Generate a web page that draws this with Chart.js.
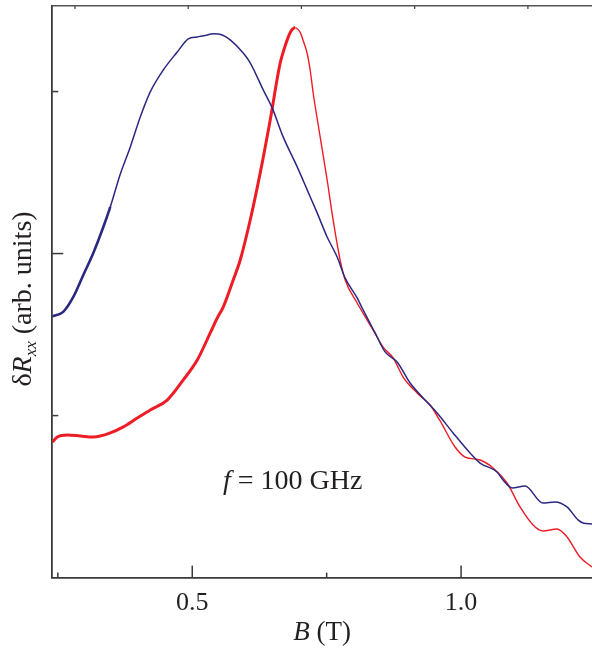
<!DOCTYPE html>
<html>
<head>
<meta charset="utf-8">
<script src="https://cdn.jsdelivr.net/npm/chart.js@4.4.1/dist/chart.umd.min.js"></script>
<style>
    html, body { margin: 0; padding: 0; background: #fff; }
    #wrap { width: 592px; height: 650px; position: relative; }
</style>
</head>
<body>
<div id="wrap"><canvas id="chart"></canvas></div>
<script>
// blue trace
const blueB = [0.2397, 0.260, 0.2788, 0.2974, 0.316, 0.3346, 0.3476, 0.3662, 0.3848, 0.4033,
    0.4219, 0.4461, 0.4721, 0.4926, 0.5093, 0.5242, 0.539, 0.5558, 0.5706, 0.5948,
    0.6078, 0.632, 0.6487, 0.6691, 0.6952, 0.7138, 0.7323, 0.7509, 0.7695, 0.7844,
    0.8067, 0.8178, 0.8401, 0.8587, 0.881, 0.9052, 0.9294, 0.9554, 0.9851, 1.0167,
    1.0353, 1.0669, 1.0781, 1.0948, 1.119, 1.1524, 1.1747, 1.197, 1.2175, 1.2268, 1.2435];
const blueR = [1.612, 1.640, 1.732, 1.868, 2.004, 2.164, 2.288, 2.491, 2.658, 2.843,
    2.998, 3.133, 3.244, 3.325, 3.337, 3.346, 3.356, 3.349, 3.319, 3.238,
    3.177, 3.010, 2.899, 2.720, 2.535, 2.393, 2.251, 2.102, 1.979, 1.849,
    1.726, 1.652, 1.510, 1.393, 1.331, 1.201, 1.109, 1.016, 0.893, 0.769,
    0.707, 0.652, 0.602, 0.553, 0.565, 0.460, 0.467, 0.436, 0.356, 0.337, 0.331];

// red trace
const redB = [0.2397, 0.2491, 0.2677, 0.2918, 0.316, 0.3476, 0.3717, 0.3978, 0.4219, 0.4535,
    0.4833, 0.5093, 0.5335, 0.5465, 0.5576, 0.5762, 0.5892, 0.6078, 0.6264, 0.645,
    0.6636, 0.671, 0.6766, 0.684, 0.6914, 0.7007, 0.7063, 0.7138, 0.7193, 0.7249,
    0.7379, 0.7509, 0.7621, 0.7751, 0.7844, 0.8067, 0.8364, 0.855, 0.8736, 0.8922,
    0.9182, 0.9424, 0.961, 0.9888, 1.0074, 1.0353, 1.0595, 1.0855, 1.1097, 1.1338,
    1.1524, 1.1784, 1.197, 1.2212, 1.2435];
const redR = [0.837, 0.868, 0.880, 0.874, 0.868, 0.893, 0.930, 0.985, 1.035, 1.096,
    1.220, 1.343, 1.510, 1.602, 1.670, 1.837, 1.960, 2.207, 2.498, 2.825,
    3.177, 3.263, 3.319, 3.374, 3.393, 3.365, 3.315, 3.235, 3.133, 2.991,
    2.720, 2.454, 2.207, 1.960, 1.837, 1.695, 1.528, 1.423, 1.356, 1.238,
    1.140, 1.065, 0.967, 0.806, 0.744, 0.726, 0.677, 0.584, 0.436, 0.325,
    0.288, 0.300, 0.251, 0.127, 0.065];

const xTickLabels = [0.5, 1.0];
const xMinorTicks = [0.25, 0.75];
const yMajorTicks = [2];
const yMinorTicks = [1, 3];
const topTicks = [1, 2, 3, 4, 5];

const serif = "'Liberation Serif', 'Times New Roman', serif";
const axisColor = '#3a3a3a';
const textColor = '#231f20';

window.addEventListener('load', () => {
    buildChart();
});

function toPoints(xs, ys) {
    return xs.map((x, i) => ({ x: x, y: ys[i] }));
}

// tick marks pointing into the plot
const innerTicks = {
    id: 'innerTicks',
    afterDraw(chart) {
        const { ctx, chartArea, scales } = chart;
        ctx.save();
        ctx.strokeStyle = axisColor;
        ctx.lineWidth = 1.5;
        const mark = (x1, y1, x2, y2) => {
            ctx.beginPath();
            ctx.moveTo(x1, y1);
            ctx.lineTo(x2, y2);
            ctx.stroke();
        };
        xTickLabels.forEach(v => {
            const px = scales.x.getPixelForValue(v);
            mark(px, chartArea.bottom, px, chartArea.bottom - 12);
        });
        xMinorTicks.forEach(v => {
            const px = scales.x.getPixelForValue(v);
            mark(px, chartArea.bottom, px, chartArea.bottom - 5);
        });
        yMajorTicks.forEach(v => {
            const py = scales.y.getPixelForValue(v);
            mark(chartArea.left, py, chartArea.left + 11, py);
        });
        yMinorTicks.forEach(v => {
            const py = scales.y.getPixelForValue(v);
            mark(chartArea.left, py, chartArea.left + 6, py);
        });
        ctx.lineWidth = 1.2;
        topTicks.forEach(v => {
            const px = scales.x2.getPixelForValue(v);
            mark(px, chartArea.top, px, chartArea.top + 3);
        });
        ctx.restore();
    }
};

// draws a run of [text, font, dy] pieces starting at x
function drawPieces(ctx, pieces, x, y) {
    pieces.forEach(p => {
        ctx.font = p[1];
        ctx.fillText(p[0], x, y + (p[2] || 0));
        x += ctx.measureText(p[0]).width;
    });
}

function piecesWidth(ctx, pieces) {
    let w = 0;
    pieces.forEach(p => {
        ctx.font = p[1];
        w += ctx.measureText(p[0]).width;
    });
    return w;
}

const labels = {
    id: 'labels',
    afterDraw(chart) {
        const { ctx, chartArea } = chart;
        ctx.save();
        ctx.fillStyle = textColor;
        ctx.textBaseline = 'alphabetic';
        ctx.textAlign = 'left';

        // x title
        const xt = [['B', 'italic 27px ' + serif], [' (T)', '27px ' + serif]];
        const cx = (chartArea.left + chartArea.right) / 2;
        drawPieces(ctx, xt, cx - piecesWidth(ctx, xt) / 2, 640);

        // y title
        const yt = [
            ['δ', '28px ' + serif],
            ['R', 'italic 28px ' + serif],
            ['xx', 'italic 17px ' + serif, 5],
            [' (arb. units)', '28px ' + serif]
        ];
        ctx.translate(31, 299);
        ctx.rotate(-Math.PI / 2);
        drawPieces(ctx, yt, -piecesWidth(ctx, yt) / 2, 0);
        ctx.setTransform(1, 0, 0, 1, 0, 0);

        // annotation
        const an = [['f', 'italic 28px ' + serif], [' = 100 GHz', '28px ' + serif]];
        drawPieces(ctx, an, 223, 489);
        ctx.restore();
    }
};

function buildChart() {
    const chartCtx = document.getElementById('chart').getContext('2d');

    const chart = new Chart(chartCtx, {
        type: 'line',
        data: {
            datasets: [{
                label: 'blue',
                data: toPoints(blueB, blueR),
                borderColor: '#2a2880',
                borderWidth: 1.5,
                segment: {
                    borderWidth: c => c.p0.parsed.x < 0.335 ? 2.6 : 1.5
                },
                cubicInterpolationMode: 'monotone',
                pointRadius: 0
            }, {
                label: 'red',
                data: toPoints(redB, redR),
                borderColor: '#ee1c25',
                borderWidth: 1.4,
                segment: {
                    borderWidth: c => c.p0.parsed.x < 0.69 ? 3 : 1.4
                },
                cubicInterpolationMode: 'monotone',
                pointRadius: 0
            }]
        },
        options: {
            responsive: true,
            maintainAspectRatio: false,
            animation: false,
            events: [],
            layout: {
                padding: { top: 6, right: 0, left: 0, bottom: 0 }
            },
            plugins: {
                legend: { display: false },
                tooltip: { enabled: false }
            },
            scales: {
                x: {
                    type: 'linear',
                    position: 'bottom',
                    min: 0.2397,
                    max: 1.2435,
                    grid: { display: false, drawTicks: false },
                    border: { display: true, color: axisColor, width: 1.8 },
                    afterBuildTicks: scale => {
                        scale.ticks = xTickLabels.map(v => ({ value: v }));
                    },
                    ticks: {
                        autoSkip: false,
                        maxRotation: 0,
                        padding: 10,
                        color: textColor,
                        font: { family: serif, size: 26 },
                        callback: v => v.toFixed(1)
                    },
                    afterFit: scale => { scale.height = 72.4; }
                },
                x2: {
                    type: 'linear',
                    position: 'top',
                    min: 0.8,
                    max: 5.566,
                    grid: { display: false, drawTicks: false },
                    border: { display: true, color: '#555', width: 1.6 },
                    ticks: { display: false },
                    afterFit: scale => { scale.height = 0; }
                },
                y: {
                    type: 'linear',
                    min: 0,
                    max: 3.528,
                    grid: { display: false, drawTicks: false },
                    border: { display: true, color: axisColor, width: 1.8 },
                    ticks: { display: false },
                    afterFit: scale => { scale.width = 52.3; }
                }
            }
        },
        plugins: [innerTicks, labels]
    });
}
</script>
</body>
</html>
